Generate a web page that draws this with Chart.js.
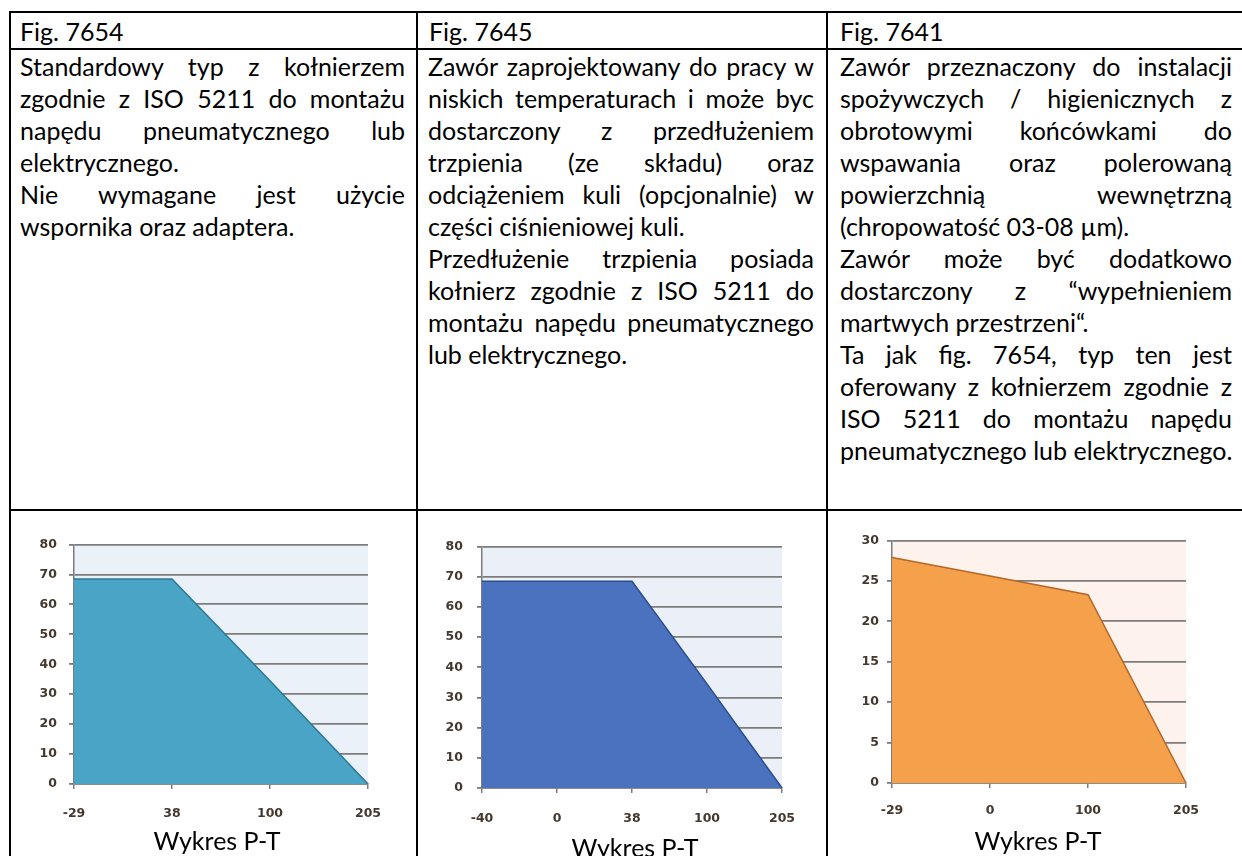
<!DOCTYPE html>
<html lang="pl">
<head>
<meta charset="utf-8">
<title>Wykres P-T</title>
<script src="https://cdn.jsdelivr.net/npm/chart.js@4.4.1/dist/chart.umd.min.js"></script>
<style>
    html, body { margin: 0; padding: 0; background: #fff; }
    body { width: 1242px; height: 856px; position: relative; overflow: hidden; font-family: Lato, "Open Sans", sans-serif; color: #000; }
    .rule { position: absolute; background: #000; }
    .head { position: absolute; top: 13px; height: 36px; line-height: 36px; font-size: 25px; white-space: nowrap; }
    .cell { position: absolute; top: 50px; font-size: 25px; line-height: 32px; }
    .cell div { white-space: nowrap; text-align: left; }
    .cell div.j { text-align: justify; text-align-last: justify; }
    .plot { position: absolute; }
    .caption { position: absolute; width: 200px; text-align: center; font-size: 25px; line-height: 32px; white-space: nowrap; }
</style>
</head>
<body>

<!-- ramka tabeli -->
<div class="rule" style="left:10px; top:11px; width:1232px; height:2px"></div>
<div class="rule" style="left:10px; top:48px; width:1232px; height:2px"></div>
<div class="rule" style="left:10px; top:509px; width:1232px; height:2px"></div>
<div class="rule" style="left:9px; top:11px; width:2px; height:845px"></div>
<div class="rule" style="left:416px; top:11px; width:2px; height:845px"></div>
<div class="rule" style="left:826px; top:11px; width:2px; height:845px"></div>

<div class="head" style="left:20px">Fig. 7654</div>
<div class="head" style="left:429px">Fig. 7645</div>
<div class="head" style="left:840px">Fig. 7641</div>

<div class="cell" style="left:20px; width:385px">
    <div class="j">Standardowy typ z kołnierzem</div>
    <div class="j">zgodnie z ISO 5211 do montażu</div>
    <div class="j">napędu pneumatycznego lub</div>
    <div>elektrycznego.</div>
    <div class="j">Nie wymagane jest użycie</div>
    <div>wspornika oraz adaptera.</div>
</div>

<div class="cell" style="left:428px; width:386px">
    <div class="j">Zawór zaprojektowany do pracy w</div>
    <div class="j">niskich temperaturach i może byc</div>
    <div class="j">dostarczony z przedłużeniem</div>
    <div class="j">trzpienia (ze składu) oraz</div>
    <div class="j">odciążeniem kuli (opcjonalnie) w</div>
    <div>części ciśnieniowej kuli.</div>
    <div class="j">Przedłużenie trzpienia posiada</div>
    <div class="j">kołnierz zgodnie z ISO 5211 do</div>
    <div class="j">montażu napędu pneumatycznego</div>
    <div>lub elektrycznego.</div>
</div>

<div class="cell" style="left:840px; width:392px">
    <div class="j">Zawór przeznaczony do instalacji</div>
    <div class="j">spożywczych / higienicznych z</div>
    <div class="j">obrotowymi końcówkami do</div>
    <div class="j">wspawania oraz polerowaną</div>
    <div class="j">powierzchnią wewnętrzną</div>
    <div>(chropowatość 03-08 µm).</div>
    <div class="j">Zawór może być dodatkowo</div>
    <div class="j">dostarczony z “wypełnieniem</div>
    <div>martwych przestrzeni“.</div>
    <div class="j">Ta jak fig. 7654, typ ten jest</div>
    <div class="j">oferowany z kołnierzem zgodnie z</div>
    <div class="j">ISO 5211 do montażu napędu</div>
    <div>pneumatycznego lub elektrycznego.</div>
</div>

<div class="plot" style="left:20px; top:525px; width:380px; height:305px"><canvas id="pt7654"></canvas></div>
<div class="plot" style="left:425px; top:525px; width:390px; height:312px"><canvas id="pt7645"></canvas></div>
<div class="plot" style="left:830px; top:525px; width:400px; height:305px"><canvas id="pt7641"></canvas></div>

<div class="caption" style="left:117px; top:824px">Wykres P-T</div>
<div class="caption" style="left:535px; top:831px">Wykres P-T</div>
<div class="caption" style="left:938px; top:824px">Wykres P-T</div>

<script>
// temperatura [°C] -> ciśnienie [bar]
const temps7654 = ['-29', '38', '100', '205'];
const pressure7654 = [68.5, 68.5, 34.5, 0];

const temps7645 = ['-40', '0', '38', '100', '205'];
const pressure7645 = [68.5, 68.5, 68.5, 34.5, 0];

const temps7641 = ['-29', '0', '100', '205'];
const pressure7641 = [27.9, 25.6, 23.3, 0];

const GRID = '#7c7c7c';
const LABEL = '#45382e';
const TICK_FONT = { family: '"DejaVu Sans", Verdana, sans-serif', size: 12.5, weight: 'bold' };

/** tło obszaru wykresu (pod liniami siatki) */
const plotBackground = {
    id: 'plotBackground',
    beforeDraw(chart, args, opts) {
        const { ctx, chartArea: a } = chart;
        ctx.save();
        ctx.fillStyle = opts.color;
        ctx.fillRect(a.left, a.top, a.right - a.left, a.bottom - a.top);
        ctx.restore();
    }
};

// box: szerokość osi Y, wysokość osi X i marginesy — tak żeby obszar wykresu trafił w ramkę komórki
function ptChart(id, { labels, values, max, step, fill, line, background, box }) {
    return new Chart(document.getElementById(id), {
        type: 'line',
        data: {
            labels,
            datasets: [{
                data: values,
                fill: 'origin',
                backgroundColor: fill,
                borderColor: line,
                borderWidth: 1.5,
                pointRadius: 0,
                tension: 0
            }]
        },
        options: {
            responsive: true,
            maintainAspectRatio: false,
            animation: false,
            layout: { padding: { top: box.top, right: box.right, left: 0, bottom: 0 } },
            plugins: {
                legend: { display: false },
                tooltip: { enabled: false },
                plotBackground: { color: background }
            },
            scales: {
                x: {
                    offset: false,
                    grid: { drawOnChartArea: false, drawTicks: true, tickLength: 5, color: GRID, lineWidth: 1.5 },
                    border: { display: true, color: GRID, width: 1.5 },
                    ticks: { color: LABEL, font: TICK_FONT, padding: box.xPad, maxRotation: 0, autoSkip: false },
                    afterFit: (scale) => { scale.height = box.xAxis; }
                },
                y: {
                    min: 0,
                    max,
                    grid: { color: GRID, lineWidth: 1.8, tickLength: 5 },
                    border: { display: true, color: GRID, width: 1.5 },
                    ticks: { stepSize: step, color: LABEL, font: TICK_FONT, padding: box.yPad },
                    afterFit: (scale) => { scale.width = box.yAxis; }
                }
            }
        },
        plugins: [plotBackground]
    });
}

ptChart('pt7654', {
    labels: temps7654, values: pressure7654, max: 80, step: 10,
    fill: '#4aa4c5', line: '#2c7896', background: '#ebf1f9',
    box: { yAxis: 54, xAxis: 46, top: 16, right: 32, yPad: 12, xPad: 17 }
});

ptChart('pt7645', {
    labels: temps7645, values: pressure7645, max: 80, step: 10,
    fill: '#4a72bf', line: '#2b4d8c', background: '#ebf0f8',
    box: { yAxis: 57, xAxis: 49, top: 16, right: 33, yPad: 14, xPad: 18 }
});

ptChart('pt7641', {
    labels: temps7641, values: pressure7641, max: 30, step: 5,
    fill: '#f5a04b', line: '#b5672a', background: '#fdf2ec',
    box: { yAxis: 62, xAxis: 47, top: 15, right: 44, yPad: 8, xPad: 15 }
});
</script>
</body>
</html>
